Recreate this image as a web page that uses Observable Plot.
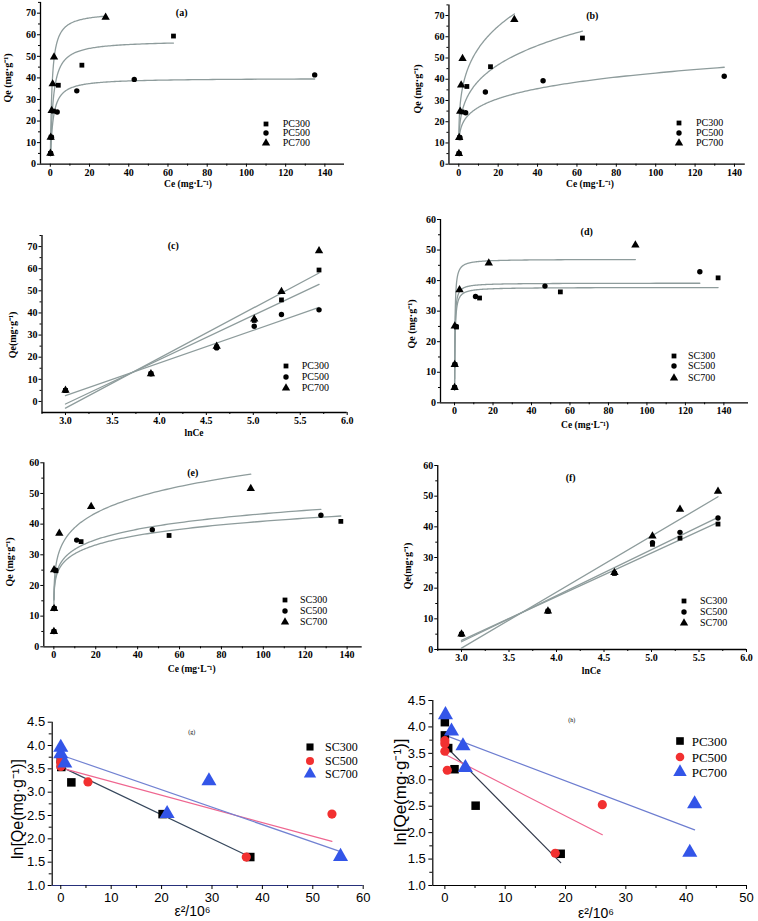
<!DOCTYPE html>
<html><head><meta charset="utf-8">
<script src="https://cdn.jsdelivr.net/npm/d3@7"></script>
<script src="https://cdn.jsdelivr.net/npm/@observablehq/plot@0.6"></script>
<style>
html,body{margin:0;padding:0;background:#fff;}
#root{position:relative;width:758px;height:921px;overflow:hidden;background:#fff;}
.t{position:absolute;white-space:nowrap;line-height:1;color:#000;}
svg{overflow:visible;}
</style></head><body><div id="root"></div>
<script>
// ================= DATA =================
// ln of initial concentration (x of panels c, f)
const lnC0 = [3.0, 3.91, 4.61, 5.01, 5.30, 5.70];

const pcNames = ["PC300", "PC500", "PC700"];
const pc300Ce = [0.1, 0.4, 1.6, 4.1, 16.1, 62.8];
const pc300Qe = [5, 12.5, 24.6, 36.6, 45.9, 59.4];
const pc500Ce = [0.2, 0.6, 3.5, 13.5, 42.8, 134.8];
const pc500Qe = [5, 12.5, 24.2, 34.0, 39.3, 41.4];
const pc700Ce = [0.05, 0.2, 0.7, 1.2, 1.9, 28.2];
const pc700Qe = [5, 12.5, 24.9, 37.2, 49.7, 68.1];

const scNames = ["SC300", "SC500", "SC700"];
const sc300Ce = [0.05, 0.2, 1.0, 13.0, 55.0, 137.0];
const sc300Qe = [5, 12.5, 24.8, 34.3, 36.3, 40.9];
const sc500Ce = [0.05, 0.2, 0.8, 10.9, 47.0, 127.5];
const sc500Qe = [5, 12.5, 25.0, 34.8, 38.2, 42.9];
const sc700Ce = [0.02, 0.1, 0.1, 2.6, 17.8, 94.0];
const sc700Qe = [5, 12.5, 25.1, 37.0, 45.7, 51.6];

// fitted isotherm parameters (order 300, 500, 700)
const pcLangmuirQm = [57.4, 39.9, 70.7];
const pcLangmuirK = [0.72, 0.74, 1.17];
const pcFreundlichK = [21.8, 16.7, 30.7];
const pcFreundlichInvN = [0.255, 0.205, 0.25];
const scLangmuirQm = [37.8, 39.2, 47.0];
const scLangmuirK = [4.0, 5.0, 4.9];
const scFreundlichK = [22.5, 23.3, 26.6];
const scFreundlichInvN = [0.13, 0.135, 0.165];

// Dubinin-Radushkevich panels: eps^2/10^6 and ln Qe
const drSc300Eps = [37.6, 20.2, 2.1, 0.1, 0.05, 0];
const drSc300LnQe = [1.61, 2.53, 3.21, 3.54, 3.59, 3.71];
const drSc500Eps = [36.8, 53.8, 5.4, 0, 0, 0];
const drSc500LnQe = [1.61, 2.53, 3.22, 3.55, 3.64, 3.76];
const drSc700Eps = [55.5, 21.1, 29.4, 0.8, 0, 0];
const drSc700LnQe = [1.62, 2.54, 3.24, 3.62, 3.82, 3.96];

const drPc300Eps = [19.2, 5.1, 1.6, 0.55, 0, 0];
const drPc300LnQe = [1.60, 2.51, 3.20, 3.60, 3.84, 4.09];
const drPc500Eps = [18.3, 26.1, 0.4, 0, 0, 0];
const drPc500LnQe = [1.61, 2.53, 3.18, 3.54, 3.68, 3.74];
const drPc700Eps = [40.6, 41.4, 3.4, 3.0, 1.1, 0.1];
const drPc700LnQe = [1.625, 2.545, 3.23, 3.64, 3.92, 4.23];

// ticks
const ceTicks = [0, 20, 40, 60, 80, 100, 120, 140];
const ceMinor = [10, 30, 50, 70, 90, 110, 130];
const lnTicks = [3.0, 3.5, 4.0, 4.5, 5.0, 5.5, 6.0];
const lnMinor = [2.75, 3.25, 3.75, 4.25, 4.75, 5.25, 5.75];
const qTicks70 = [0, 10, 20, 30, 40, 50, 60, 70];
const qMinor70 = [5, 15, 25, 35, 45, 55, 65, 75];
const qTicks60 = [0, 10, 20, 30, 40, 50, 60];
const qMinor60 = [5, 15, 25, 35, 45, 55];
const drYTicks = [1.0, 1.5, 2.0, 2.5, 3.0, 3.5, 4.0, 4.5];
const drYMinor = [1.25, 1.75, 2.25, 2.75, 3.25, 3.75, 4.25];
const drXTicksG = [0, 10, 20, 30, 40, 50, 60];
const drXMinorG = [5, 15, 25, 35, 45, 55];
const drXTicksH = [0, 10, 20, 30, 40, 50];
const drXMinorH = [5, 15, 25, 35, 45];

// ================= HELPERS =================
const root = document.getElementById("root");
const rows = (xs, ys) => xs.map((x, i) => ({x, y: ys[i]}));
const symbols = ["square", "circle", "triangle"];
const d3Sym = {square: d3.symbolSquare, circle: d3.symbolCircle, triangle: d3.symbolTriangle};
const fitGray = "#8e9c9c";
const serif = "'Liberation Serif', 'Times New Roman', serif";
const sans = "'Liberation Sans', Arial, sans-serif";

function curve(ces, f) {
  const lo = d3.min(ces), hi = d3.max(ces);
  return d3.range(0, 241).map(j => { const c = lo * (hi / lo) ** (j / 240); return {x: c, y: f(c)}; });
}
const langmuir = (qm, k) => c => qm * k * c / (1 + k * c);
const freundlich = (k, n) => c => k * c ** n;

function panel({box: [L, T, W, H], frame: [fl, fr, ft, fb], x, y, style, marks}) {
  const p = Plot.plot({
    width: W, height: H,
    marginLeft: fl - L, marginRight: L + W - fr, marginTop: ft - T, marginBottom: T + H - fb,
    x, y, style, marks
  });
  p.style.position = "absolute";
  p.style.left = L + "px";
  p.style.top = T + "px";
  root.appendChild(p);
  return p;
}

function text(str, x, y, o = {}) {
  const d = document.createElement("div");
  d.className = "t";
  d.textContent = str;
  d.style.left = x + "px";
  d.style.top = y + "px";
  d.style.fontFamily = o.family || serif;
  d.style.fontSize = (o.size || 10) + "px";
  d.style.fontWeight = o.weight || "bold";
  const tx = o.anchor === "start" ? "0" : "-50%";
  d.style.transform = `translate(${tx},-50%)` + (o.rotate ? ` rotate(${o.rotate}deg)` : "");
  root.appendChild(d);
}

function legend(names, colors, mx, ys, tx, o) {
  names.forEach((n, i) => {
    const svg = d3.create("svg").attr("width", 20).attr("height", 20)
      .style("position", "absolute").style("left", (mx - 10) + "px").style("top", (ys[i] - 10) + "px");
    const r = o.r[i];
    svg.append("path").attr("transform", "translate(10,10)")
      .attr("d", d3.symbol(d3Sym[symbols[i]], Math.PI * r * r)()).attr("fill", colors[i]);
    root.appendChild(svg.node());
    text(n, tx, ys[i], {anchor: "start", size: o.size, weight: o.weight, family: o.family});
  });
}

function axes(xDomain, yDomain, xt, xm, yt, ym, xf, yf, o = {}) {
  return [
    Plot.ruleX([xDomain[0]], {stroke: o.yLine || "#000", strokeWidth: o.lw || 1.3}),
    Plot.ruleY([yDomain[0]], {stroke: o.xLine || "#000", strokeWidth: o.lw || 1.3}),
    Plot.axisX({ticks: xt, tickSize: o.ts || 3, tickPadding: o.tp || 1.5, tickFormat: xf, label: null}),
    Plot.axisX({ticks: xm, tickSize: o.ms || 2, tickFormat: () => "", label: null}),
    Plot.axisY({ticks: yt, tickSize: o.ts || 3, tickPadding: o.tp || 1.5, tickFormat: yf, label: null}),
    Plot.axisY({ticks: ym, tickSize: o.ms || 2, tickFormat: () => "", label: null})
  ];
}

const upperStyle = {fontFamily: serif, fontSize: "10px", fontWeight: "bold", background: "transparent", color: "#000"};
const lowerStyle = {fontFamily: sans, fontSize: "13px", fontWeight: "normal", background: "transparent", color: "#000"};
const intFmt = d3.format("d");
const f1 = d3.format(".1f");

function dots(xsList, ysList, r, colors) {
  return xsList.map((xs, i) => Plot.dot(rows(xs, ysList[i]), {x: "x", y: "y", symbol: () => symbols[i], r: r[i], fill: colors[i], stroke: "none"}));
}

const pcCe = [pc300Ce, pc500Ce, pc700Ce];
const pcQe = [pc300Qe, pc500Qe, pc700Qe];
const scCe = [sc300Ce, sc500Ce, sc700Ce];
const scQe = [sc300Qe, sc500Qe, sc700Qe];
const lnList = [lnC0, lnC0, lnC0];
const black3 = ["#000", "#000", "#000"];
const upR = [2.7, 2.7, 3.1];
const titleSize = 9.5;

// ================= (a) Langmuir PC =================
panel({
  box: [0, 0, 380, 195], frame: [40, 344, 1.9, 163.7],
  x: {domain: [-5, 150]}, y: {domain: [0, 75]}, style: upperStyle,
  marks: [
    ...axes([-5, 150], [0, 75], ceTicks, ceMinor, qTicks70, qMinor70, intFmt, intFmt),
    ...pcCe.map((ce, i) => Plot.line(curve(ce, langmuir(pcLangmuirQm[i], pcLangmuirK[i])), {x: "x", y: "y", stroke: fitGray, strokeWidth: 1.3})),
    ...dots(pcCe, pcQe, upR, black3)
  ]
});
text("(a)", 181.7, 13.3);
text("Qe (mg·g⁻¹)", 8.3, 78, {rotate: -90});
text("Ce (mg·L⁻¹)", 188, 185, {size: titleSize});
legend(pcNames, black3, 265.7, [123.5, 133, 142.5], 282.7, {r: upR, size: 10, weight: "normal"});

// ================= (b) Freundlich PC =================
panel({
  box: [380, 0, 378, 195], frame: [448.45, 744.8, 4.4, 163.7],
  x: {domain: [-5, 145.5]}, y: {domain: [0, 75]}, style: upperStyle,
  marks: [
    ...axes([-5, 145.5], [0, 75], ceTicks, ceMinor, qTicks70, qMinor70, intFmt, intFmt),
    ...pcCe.map((ce, i) => Plot.line(curve(ce, freundlich(pcFreundlichK[i], pcFreundlichInvN[i])), {x: "x", y: "y", stroke: fitGray, strokeWidth: 1.3})),
    ...dots(pcCe, pcQe, upR, black3)
  ]
});
text("(b)", 592.3, 15.7);
text("Qe (mg·g⁻¹)", 417.7, 89, {rotate: -90});
text("Ce (mg·L⁻¹)", 590, 185, {size: titleSize});
legend(pcNames, black3, 679, [123.3, 133, 143], 696, {r: upR, size: 10, weight: "normal"});

// ================= (c) Temkin PC =================
panel({
  box: [0, 200, 380, 245], frame: [41.5, 346.7, 235, 412],
  x: {domain: [2.75, 6.0]}, y: {domain: [-5, 75]}, style: upperStyle,
  marks: [
    ...axes([2.75, 6.0], [-5, 75], lnTicks, lnMinor, qTicks70, qMinor70, f1, intFmt),
    ...pcQe.map(q => Plot.linearRegressionY(rows(lnC0, q), {x: "x", y: "y", stroke: fitGray, strokeWidth: 1.3, ci: 0})),
    ...dots(lnList, pcQe, upR, black3)
  ]
});
text("(c)", 173.3, 246);
text("Qe(mg·g⁻¹)", 13.3, 335, {rotate: -90});
text("lnCe", 194, 434, {size: titleSize});
legend(pcNames, black3, 285.7, [365.7, 376.7, 387.7], 301.7, {r: upR, size: 10, weight: "normal"});

// ================= (d) Langmuir SC =================
panel({
  box: [380, 205, 378, 225], frame: [440, 748, 219, 402.3],
  x: {domain: [-7.3, 152.8]}, y: {domain: [0, 60]}, style: upperStyle,
  marks: [
    ...axes([-7.3, 152.8], [0, 60], ceTicks, ceMinor, qTicks60, qMinor60, intFmt, intFmt),
    ...scCe.map((ce, i) => Plot.line(curve(ce, langmuir(scLangmuirQm[i], scLangmuirK[i])), {x: "x", y: "y", stroke: fitGray, strokeWidth: 1.3})),
    ...dots(scCe, scQe, upR, black3)
  ]
});
text("(d)", 586.7, 231.7);
text("Qe (mg·g⁻¹)", 411.7, 324, {rotate: -90});
text("Ce (mg·L⁻¹)", 585, 426, {size: titleSize});
legend(scNames, black3, 674.3, [355.7, 366.3, 377.7], 688, {r: upR, size: 10, weight: "normal"});

// ================= (e) Freundlich SC =================
panel({
  box: [0, 445, 380, 235], frame: [43.3, 361.7, 462.3, 646.3],
  x: {domain: [-4.8, 147.2]}, y: {domain: [0, 60]}, style: upperStyle,
  marks: [
    ...axes([-4.8, 147.2], [0, 60], ceTicks, ceMinor, qTicks60, qMinor60, intFmt, intFmt),
    ...scCe.map((ce, i) => Plot.line(curve(ce, freundlich(scFreundlichK[i], scFreundlichInvN[i])), {x: "x", y: "y", stroke: fitGray, strokeWidth: 1.3})),
    ...dots(scCe, scQe, upR, black3)
  ]
});
text("(e)", 192.7, 473.3);
text("Qe (mg·g⁻¹)", 10, 562, {rotate: -90});
text("Ce (mg·L⁻¹)", 191.7, 669.5, {size: titleSize});
legend(scNames, black3, 285, [600, 611, 621.7], 300, {r: upR, size: 10, weight: "normal"});

// ================= (f) Temkin SC =================
panel({
  box: [380, 445, 378, 235], frame: [437.25, 746, 465, 649],
  x: {domain: [2.75, 6.0]}, y: {domain: [0, 60]}, style: upperStyle,
  marks: [
    ...axes([2.75, 6.0], [0, 60], lnTicks, lnMinor, qTicks60, qMinor60, f1, intFmt),
    ...scQe.map(q => Plot.linearRegressionY(rows(lnC0, q), {x: "x", y: "y", stroke: fitGray, strokeWidth: 1.3, ci: 0})),
    ...dots(lnList, scQe, upR, black3)
  ]
});
text("(f)", 570.7, 477.7);
text("Qe(mg·g⁻¹)", 408.3, 566, {rotate: -90});
text("lnCe", 591.3, 672, {size: titleSize});
legend(scNames, black3, 684.3, [601, 612, 622.7], 700, {r: upR, size: 10, weight: "normal"});

// ================= (g) D-R SC =================
const drColors = ["#000", "#f23030", "#3355e8"];
const drR = [4.8, 4.6, 5.6];
const gLines = ["#36475c", "#ef6690", "#7282d2"];
const gEps = [drSc300Eps, drSc500Eps, drSc700Eps];
const gLn = [drSc300LnQe, drSc500LnQe, drSc700LnQe];
panel({
  box: [0, 690, 380, 231], frame: [51.7, 362.7, 721.7, 885],
  x: {domain: [-1.7, 60]}, y: {domain: [1, 4.5]}, style: lowerStyle,
  marks: [
    ...axes([-1.7, 60], [1, 4.5], drXTicksG, drXMinorG, drYTicks, drYMinor, intFmt, f1, {xLine: "#26307a", lw: 1.2, ts: 4, tp: 3, ms: 3}),
    ...gEps.map((e, i) => Plot.linearRegressionY(rows(e, gLn[i]), {x: "x", y: "y", stroke: gLines[i], strokeWidth: 1.2, ci: 0})),
    ...dots(gEps, gLn, drR, drColors)
  ]
});
text("(g)", 191.7, 731.7, {size: 6, weight: "normal"});
text("ln[Qe(mg·g⁻¹)]", 18.3, 809, {rotate: -90, family: sans, size: 16, weight: "normal"});
text("ε²/10⁶", 192.5, 911, {family: sans, size: 14, weight: "normal"});
legend(scNames, drColors, 310, [747.3, 760.7, 774], 325, {r: [4, 4, 4.6], size: 12, weight: "normal"});

// ================= (h) D-R PC =================
const hEps = [drPc300Eps, drPc500Eps, drPc700Eps];
const hLn = [drPc300LnQe, drPc500LnQe, drPc700LnQe];
const hLines = ["#333a4c", "#ef6690", "#6d7dd0"];
panel({
  box: [380, 685, 378, 236], frame: [432.3, 746, 700, 885],
  x: {domain: [-2, 50]}, y: {domain: [1, 4.5]}, style: lowerStyle,
  marks: [
    ...axes([-2, 50], [1, 4.5], drXTicksH, drXMinorH, drYTicks, drYMinor, intFmt, f1, {lw: 1.2, ts: 4, tp: 3, ms: 3}),
    ...hEps.map((e, i) => Plot.linearRegressionY(rows(e, hLn[i]), {x: "x", y: "y", stroke: hLines[i], strokeWidth: 1.2, ci: 0})),
    ...dots(hEps, hLn, drR, drColors)
  ]
});
text("(h)", 571.7, 720, {size: 6, weight: "normal"});
text("ln[Qe(mg·g⁻¹)]", 400, 792, {rotate: -90, family: sans, size: 17, weight: "normal"});
text("ε²/10⁶", 596, 913, {family: sans, size: 14, weight: "normal"});
legend(pcNames, drColors, 680, [740.7, 756.7, 771.7], 691.7, {r: [4.3, 4.3, 5], size: 13, weight: "normal"});
</script></body></html>
